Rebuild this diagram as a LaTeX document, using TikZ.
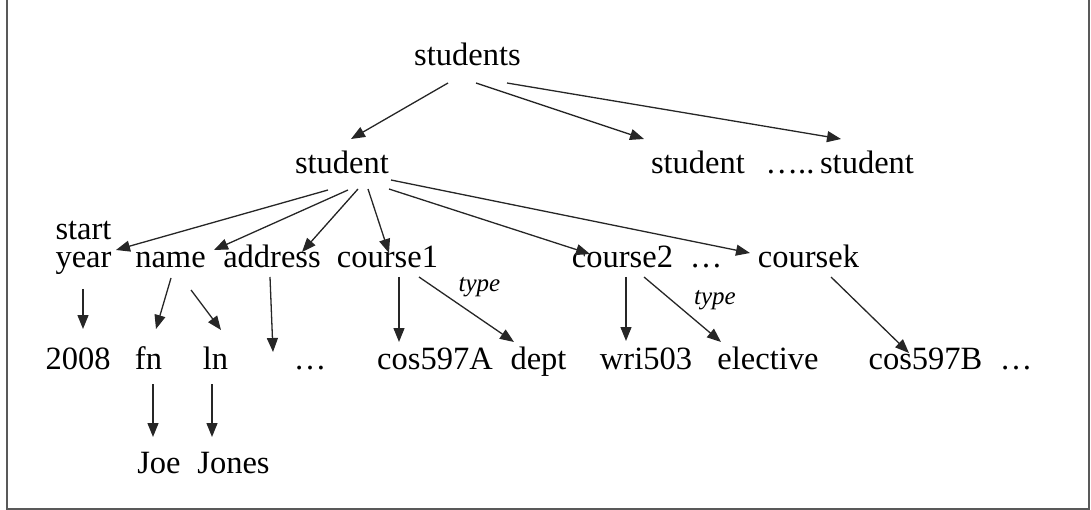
\documentclass[tikz,border=0pt]{standalone}
\usepackage{fontspec}
\setmainfont{Liberation Serif}
\usetikzlibrary{arrows.meta,calc}

\begin{document}
\begin{tikzpicture}[x=1pt,y=1pt,
  lbl/.style={anchor=base,inner sep=0pt,font=\fontsize{32.5}{39}\selectfont},
  edgelbl/.style={anchor=base,inner sep=0pt,font=\fontsize{25}{30}\selectfont\itshape},
  arr/.style={draw=black!85,line width=1.3pt,-{Triangle[length=14pt,width=11pt]}},
  frame/.style={draw=black!65,line width=1.6pt}]

\useasboundingbox (0,0) rectangle (1091,-510);
\draw[frame] (7,0) -- (7,-509) -- (1089,-509) -- (1089,0);

% level 0 and 1
\node[lbl] (students) at (467.5,-66) {students};
\node[lbl] (student)  at (342,-174) {student};
\node[lbl] (student2) at (698,-174) {student};
\node[lbl] (sdots)    at (790,-174) {…..};
\node[lbl] (student3) at (867,-174) {student};

% children of a student
\node[lbl] (start)   at (83.5,-240) {start};
\node[lbl] (year)    at (83.5,-268) {year};
\node[lbl] (name)    at (170.5,-268) {name};
\node[lbl] (address) at (272,-268) {address};
\node[lbl] (course1) at (387.5,-268) {course1};
\node[lbl] (course2) at (622.5,-268) {course2};
\node[lbl] (cdots)   at (706,-268) {…};
\node[lbl] (coursek) at (808.5,-268) {coursek};

% values
\node[lbl] (y2008)   at (78,-369) {2008};
\node[lbl] (fn)      at (148.5,-369) {fn};
\node[lbl] (ln)      at (215.5,-369) {ln};
\node[lbl] (adots)   at (310,-369) {…};
\node[lbl] (cosA)    at (435,-369) {cos597A};
\node[lbl] (dept)    at (538.5,-369) {dept};
\node[lbl] (wri)     at (646,-369) {wri503};
\node[lbl] (elective) at (768,-369) {elective};
\node[lbl] (cosB)    at (925.5,-369) {cos597B};
\node[lbl] (bdots)   at (1016,-369) {…};

\node[lbl] (joe)   at (159,-473) {Joe};
\node[lbl] (jones) at (233.5,-473) {Jones};

\node[edgelbl] (type1) at (479.5,-292) {type};
\node[edgelbl] (type2) at (715,-305) {type};

% connectors
\draw[arr] ($(students.base)+(-19.5,-17)$) -- ($(student.base)+(9,35)$);
\draw[arr] ($(students.base)+(8.5,-17)$)   -- ($(student2.base)+(-54,35)$);
\draw[arr] ($(students.base)+(39.5,-17)$)  -- ($(student3.base)+(-26,35)$);

\draw[arr] ($(student.base)+(-14,-16)$) -- ($(start.base)+(32.5,-10)$);
\draw[arr] ($(student.base)+(6,-16)$)   -- ($(name.base)+(43.5,18)$);
\draw[arr] ($(student.base)+(16,-15)$)  -- ($(address.base)+(30,16)$);
\draw[arr] ($(student.base)+(26,-15)$)  -- ($(course1.base)+(1.5,15)$);
\draw[arr] ($(student.base)+(47,-15)$)  -- ($(course2.base)+(-32.5,14)$);
\draw[arr] ($(student.base)+(49,-6)$)   -- ($(coursek.base)+(-58.5,15)$);

\draw[arr] ($(year.base)+(-0.5,-21)$)   -- ($(y2008.base)+(5,40)$);
\draw[arr] ($(name.base)+(0.5,-10)$)    -- ($(fn.base)+(7.5,40)$);
\draw[arr] ($(name.base)+(20.5,-22)$)   -- ($(ln.base)+(5.5,39)$);
\draw[arr] ($(address.base)+(-2,-9)$)   -- ($(adots.base)+(-37,17)$);
\draw[arr] ($(course1.base)+(11.5,-9)$) -- ($(cosA.base)+(-36,27)$);
\draw[arr] ($(course1.base)+(31.5,-9)$) -- ($(dept.base)+(-24.5,27)$);
\draw[arr] ($(course2.base)+(3.5,-9)$)  -- ($(wri.base)+(-20,28)$);
\draw[arr] ($(course2.base)+(21.5,-9)$) -- ($(elective.base)+(-47,27)$);
\draw[arr] ($(coursek.base)+(22.5,-9)$) -- ($(cosB.base)+(-16.5,16)$);

\draw[arr] ($(fn.base)+(4.5,-15)$)  -- ($(joe.base)+(-6,36)$);
\draw[arr] ($(ln.base)+(-3.5,-15)$) -- ($(jones.base)+(-21.5,36)$);
\end{tikzpicture}
\end{document}
